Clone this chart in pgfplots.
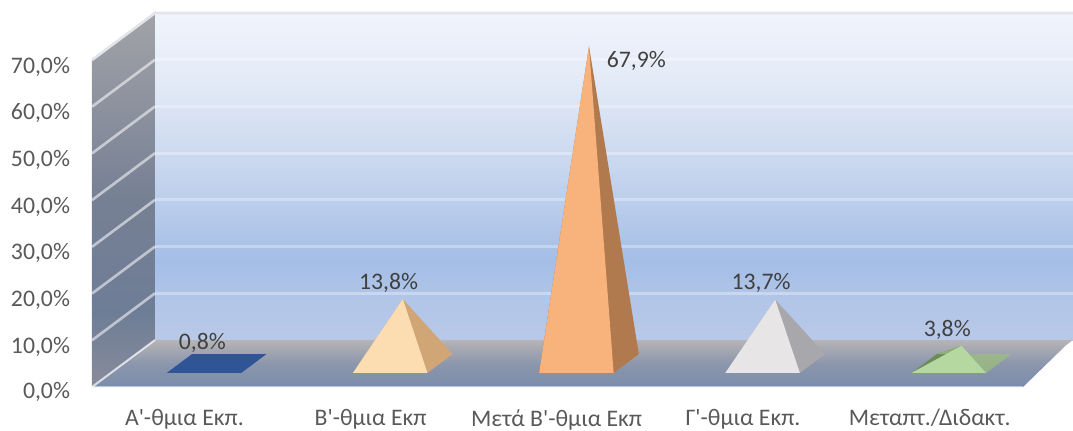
\documentclass[border=0pt]{standalone}
\usepackage{pgfplots}
\pgfplotsset{compat=1.18}
\usepackage{fontspec}
\setmainfont{Carlito}[Ligatures=TeXOff]
\definecolor{txt}{HTML}{595959}
\definecolor{lab}{HTML}{404040}
\definecolor{wa}{HTML}{B8C8E8}\definecolor{wb}{HTML}{B2C6E8}\definecolor{wc}{HTML}{A4BEE6}
\definecolor{wd}{HTML}{C5D4EE}\definecolor{we}{HTML}{E4EBF7}\definecolor{wf}{HTML}{F0F4FC}
\definecolor{fa}{HTML}{7A8CAC}\definecolor{fb}{HTML}{8C96AC}\definecolor{fc}{HTML}{B6B4B6}
\definecolor{sa}{HTML}{888C9B}\definecolor{sb}{HTML}{6E7D96}\definecolor{sc}{HTML}{768094}\definecolor{sd}{HTML}{A2A3A8}
\pgfdeclareverticalshading{wallshade}{100bp}{
 color(0bp)=(wa); color(25bp)=(wa); color(31bp)=(wb); color(37bp)=(wc);
 color(50bp)=(wd); color(65bp)=(we); color(75bp)=(wf); color(100bp)=(wf)}
\pgfdeclareverticalshading{floorshade}{100bp}{
 color(0bp)=(fa); color(25bp)=(fa); color(50bp)=(fb); color(75bp)=(fc); color(100bp)=(fc)}
\pgfdeclareverticalshading{sideshade}{100bp}{
 color(0bp)=(sa); color(25bp)=(sa); color(35bp)=(sb); color(50bp)=(sc); color(75bp)=(sd); color(100bp)=(sd)}
\begin{document}
\begin{tikzpicture}
\begin{axis}[
  x={(139.65pt,0pt)}, y={(47.25pt,35.25pt)}, z={(0pt,3.5036pt)},
  xmin=-0.5, xmax=4.5, ymin=0, ymax=1, zmin=0, zmax=70,
  clip=false, no markers,
  axis line style={draw=none}, tick style={draw=none}, grid=none,
  xtick={0,1,2,3,4},
  xticklabels={Α'-θμια Εκπ.,Β'-θμια Εκπ,Μετά Β'-θμια Εκπ,Γ'-θμια Εκπ.,Μεταπτ./Διδακτ.},
  ytick=\empty,
  ztick={0,10,20,30,40,50,60,70},
  zticklabels={0{,}0\%,10{,}0\%,20{,}0\%,30{,}0\%,40{,}0\%,50{,}0\%,60{,}0\%,70{,}0\%},
  every tick label/.append style={font=\fontsize{17.8}{20}\selectfont, text=txt},
  xticklabel style={yshift=-13.2pt, xshift=5pt},
  zticklabel style={xshift=-13pt, yshift=3.6pt},
]
% side wall, back wall, floor
\addplot3[draw=none, shading=sideshade, forget plot] coordinates {(-0.5,0,0) (-0.5,1,0) (-0.5,1,70) (-0.5,0,70)} --cycle;
\addplot3[draw=none, shading=wallshade, forget plot] coordinates {(-0.5,1,0) (4.43,1,0) (4.43,1,70) (-0.5,1,70)} --cycle;
\addplot3[draw=none, shading=floorshade, forget plot] coordinates {(-0.5,0,0) (4.5,0,0) (4.43,0.89,0) (4.43,1,0) (-0.5,1,0)} --cycle;
% gridlines
\foreach \g in {10,20,30,40,50,60}{
  \addplot3[draw=white, draw opacity=0.55, line width=2pt, forget plot] coordinates {(-0.5,0,\g) (-0.5,1,\g)};
  \addplot3[draw=white, draw opacity=0.32, line width=2.4pt, forget plot] coordinates {(-0.5,1,\g) (4.43,1,\g)};
}
\addplot3[draw=white, draw opacity=0.7, line width=1.5pt, forget plot] coordinates {(-0.5,0,0) (-0.5,1,0)};
\addplot3[draw=white, draw opacity=0.5, line width=1.5pt, forget plot] coordinates {(-0.5,0,0) (4.5,0,0)};
\addplot3[draw={rgb,255:red,225;green,228;blue,232}, line width=2pt, forget plot] coordinates {(-0.5,0,70) (-0.5,1,70) (4.43,1,70)};
% series: A'-thmia 0.8
\addplot3[fill={rgb,255:red,47;green,85;blue,151}, draw=none] coordinates {(-0.2,0.3,0) (0.2,0.3,0) (0.2,0.7,0) (-0.2,0.7,0)} --cycle;
% B'-thmia 13.8
\addplot3[fill={rgb,255:red,208;green,166;blue,118}, draw=none] coordinates {(0.8,0.3,0) (1.2,0.3,0) (1.2,0.7,0) (1,0.5,13.8)} --cycle;
\addplot3[fill={rgb,255:red,252;green,221;blue,178}, draw=none] coordinates {(0.8,0.3,0) (1.2,0.3,0) (1,0.5,13.8)} --cycle;
% Meta B' 67.9
\addplot3[fill={rgb,255:red,176;green,122;blue,78}, draw=none] coordinates {(1.8,0.3,0) (2.2,0.3,0) (2.2,0.7,0) (2,0.5,67.9)} --cycle;
\addplot3[fill={rgb,255:red,248;green,178;blue,124}, draw=none] coordinates {(1.8,0.3,0) (2.2,0.3,0) (2,0.5,67.9)} --cycle;
% G' 13.7
\addplot3[fill={rgb,255:red,168;green,168;blue,172}, draw=none] coordinates {(2.8,0.3,0) (3.2,0.3,0) (3.2,0.7,0) (3,0.5,13.7)} --cycle;
\addplot3[fill={rgb,255:red,231;green,229;blue,230}, draw=none] coordinates {(2.8,0.3,0) (3.2,0.3,0) (3,0.5,13.7)} --cycle;
% Metapt 3.8
\addplot3[fill={rgb,255:red,106;green,140;blue,86}, draw=none] coordinates {(3.8,0.3,0) (3.8,0.7,0) (4,0.5,3.8)} --cycle;
\addplot3[fill={rgb,255:red,156;green,190;blue,126}, draw=none, fill opacity=0.75] coordinates {(4.2,0.3,0) (4.2,0.7,0) (3.8,0.7,0) (4,0.5,3.8)} --cycle;
\addplot3[fill={rgb,255:red,181;green,215;blue,160}, draw=none] coordinates {(3.8,0.3,0) (4.2,0.3,0) (4,0.5,3.8)} --cycle;
% data labels
\tikzset{dl/.style={font=\fontsize{17.8}{20}\selectfont, text=lab, inner sep=0pt}}
\node[dl] at (axis cs:0,0.275,6.6) {0,8\%};
\node[dl] at (axis cs:1,0.275,19.5) {13,8\%};
\node[dl] at (axis cs:2.33,0.275,67) {67,9\%};
\node[dl] at (axis cs:3,0.275,19.5) {13,7\%};
\node[dl] at (axis cs:4,0.275,9.5) {3,8\%};
\coordinate (A) at (axis cs:-0.5,0,0);
\end{axis}
\pgfresetboundingbox
\path[use as bounding box] ([shift={(-69pt,-32.25pt)}]A) rectangle ([shift={(735.75pt,290.25pt)}]A);
\end{tikzpicture}
\end{document}
